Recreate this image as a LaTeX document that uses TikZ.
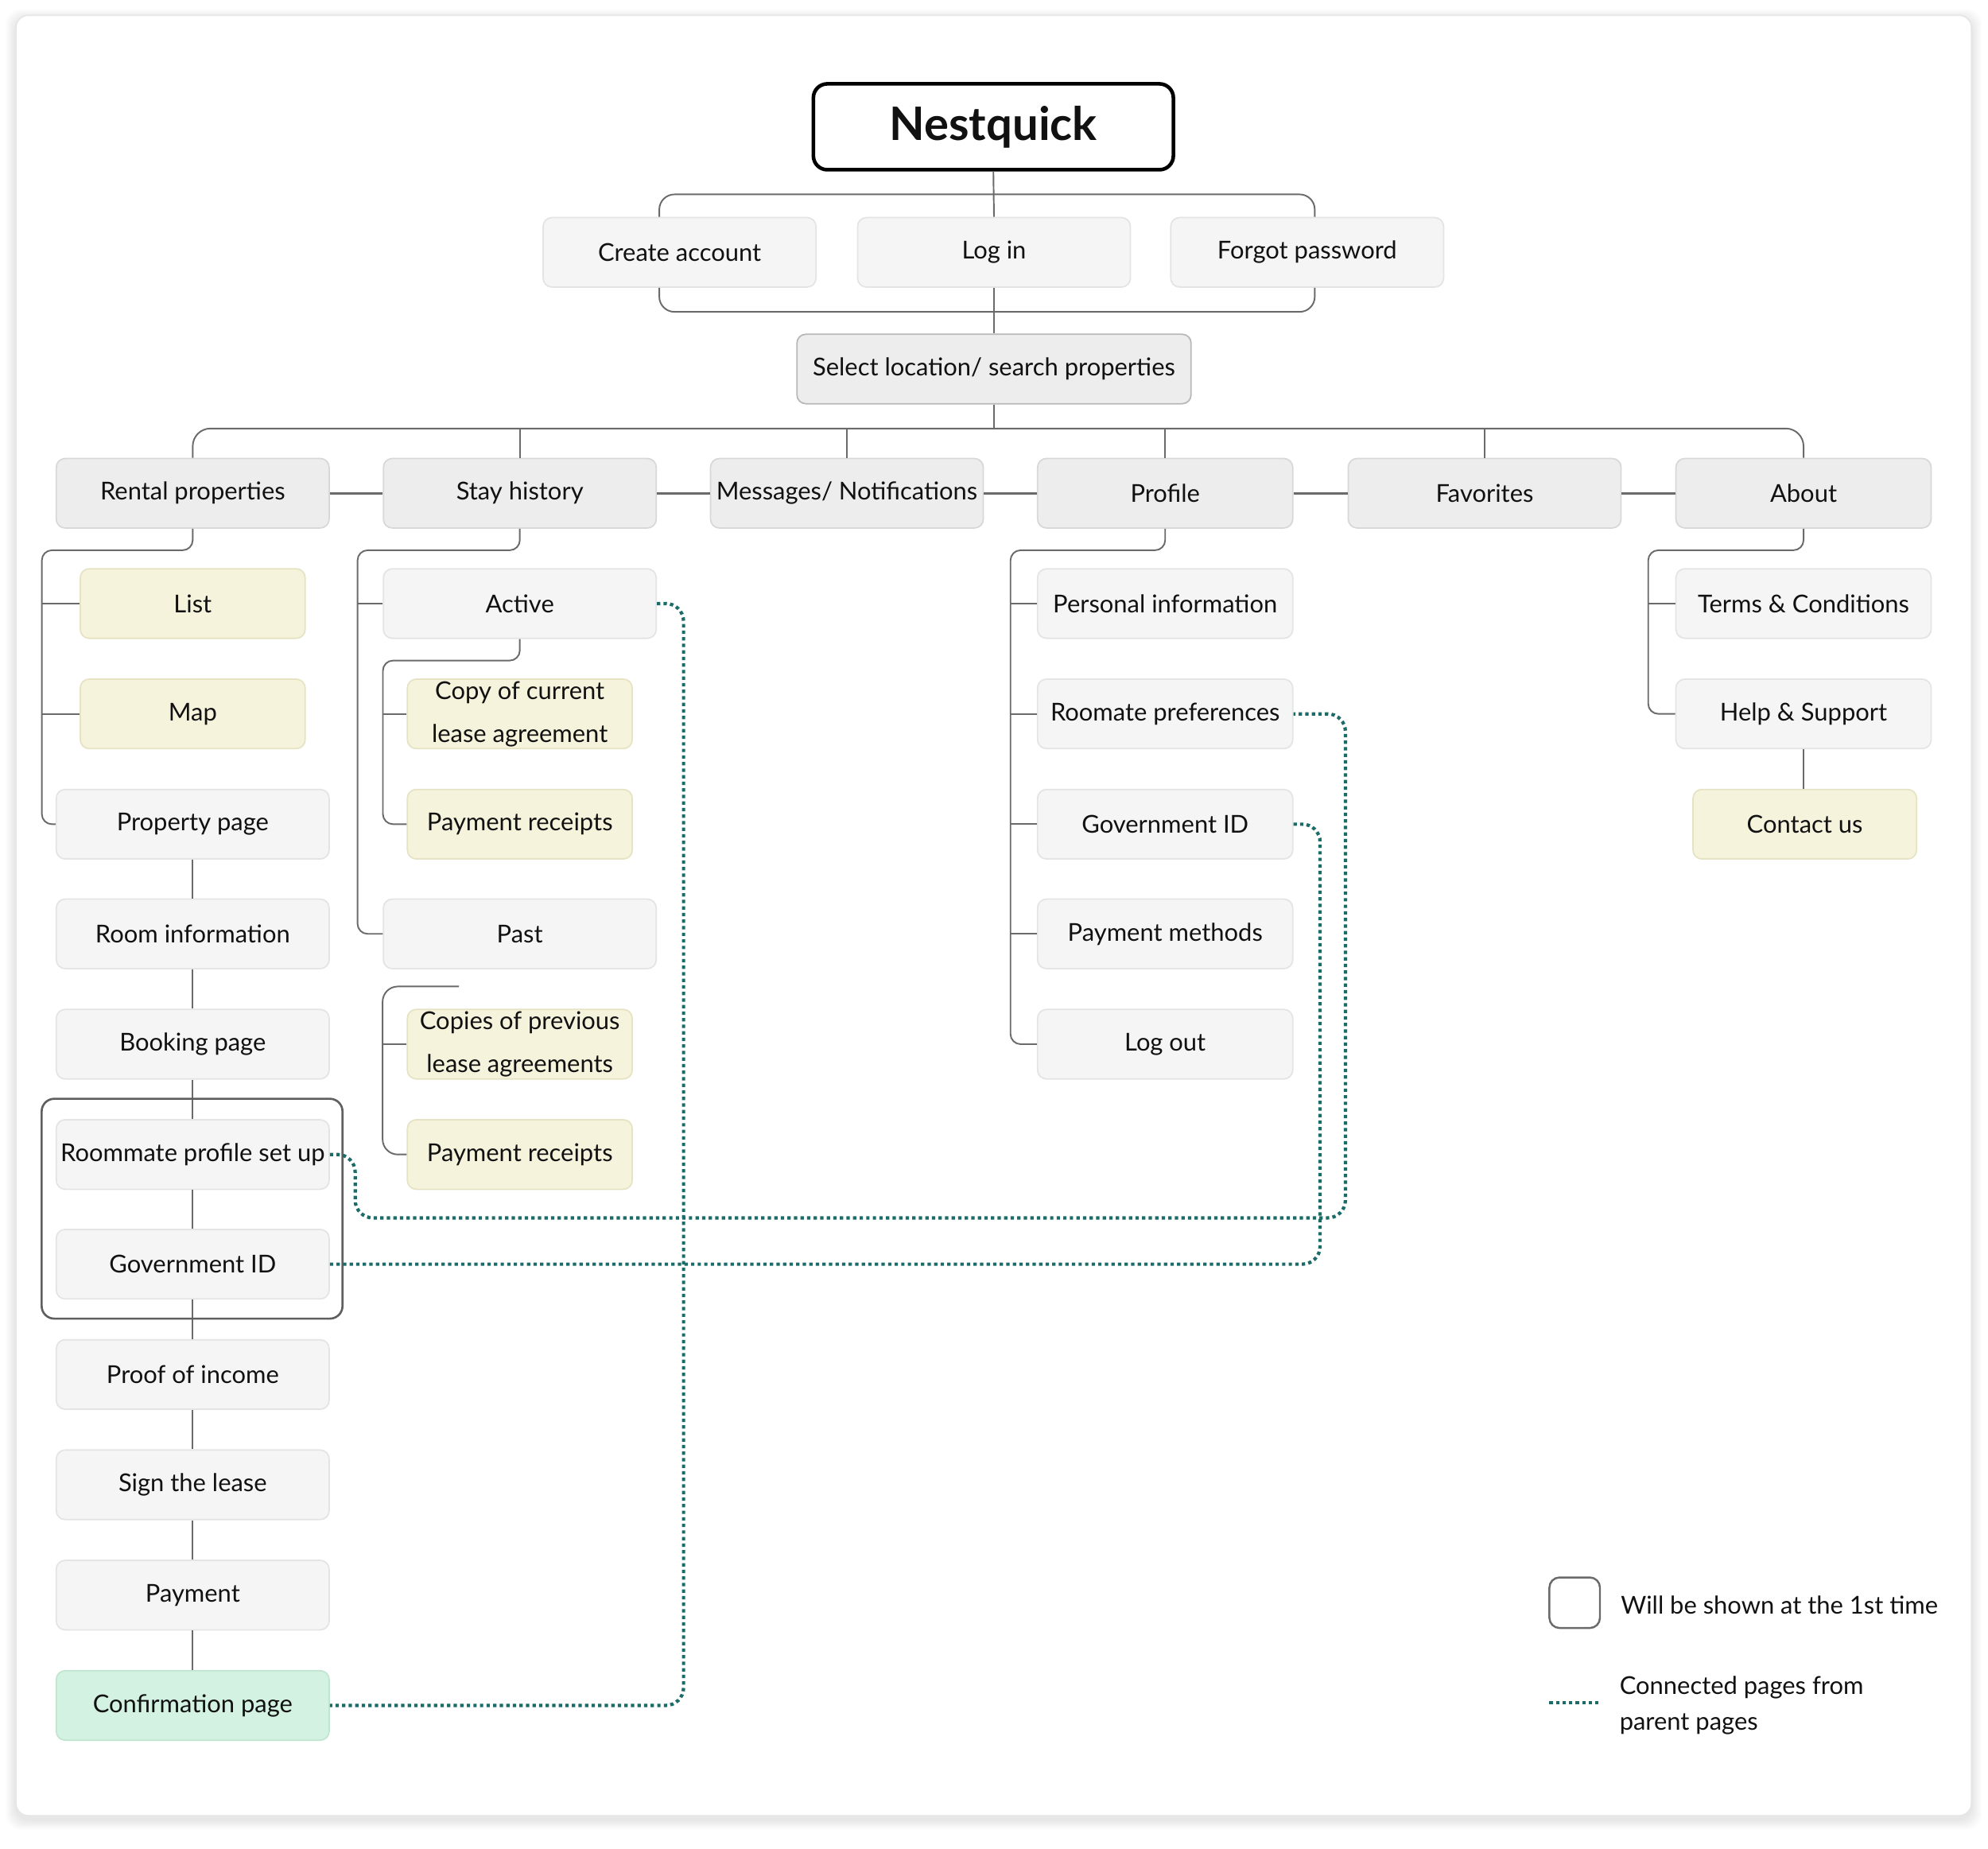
\documentclass[tikz,border=0pt]{standalone}
\usepackage{fontspec}
\setmainfont{Lato}
\usetikzlibrary{calc}
\def\px{0.4520pt}
\definecolor{ink}{HTML}{111111}
\definecolor{lightfill}{HTML}{F4F5F4}
\definecolor{lightdraw}{HTML}{E3E5E3}
\definecolor{catfill}{HTML}{EDEDED}
\definecolor{catdraw}{HTML}{D8D8D8}
\definecolor{yelfill}{HTML}{F5F3DC}
\definecolor{yeldraw}{HTML}{E6E3C4}
\definecolor{mintfill}{HTML}{D4F2E2}
\definecolor{mintdraw}{HTML}{C0E5D0}
\definecolor{conncol}{HTML}{6A6A6A}
\definecolor{tealdot}{HTML}{1B6B68}
\definecolor{cardline}{HTML}{E6E6E6}
\begin{document}
\begin{tikzpicture}[x=0.015944cm, y=-0.015944cm,
  box/.style={rectangle, rounded corners=7*\px, line width=0.5pt, inner sep=0pt, align=center,
    text=ink, font=\fontsize{8.8}{15.4}\selectfont, minimum height=55*\px},
  wide/.style={minimum width=216*\px},
  mid/.style={minimum width=202*\px},
  narrow/.style={minimum width=178*\px},
  light/.style={box, fill=lightfill, draw=lightdraw},
  cat/.style={box, fill=catfill, draw=catdraw},
  yel/.style={box, fill=yelfill, draw=yeldraw},
  mint/.style={box, fill=mintfill, draw=mintdraw},
  conn/.style={draw=conncol, line width=0.55pt, rounded corners=8*\px},
  rowconn/.style={draw=conncol, line width=0.85pt},
  dotc/.style={draw=tealdot, line width=1.2pt, dash pattern=on 1.2pt off 1.15pt, rounded corners=14*\px},
  lbl/.style={inner sep=0pt, text=ink, font=\fontsize{8.8}{12.7}\selectfont},
]
\useasboundingbox (0,0) rectangle (1568,1458.2);
% card with soft shadow
\foreach \i in {1,...,8}{
  \fill[black, opacity=0.012, rounded corners=12*\px] (12.5-\i,12-\i+3) rectangle (1555+\i,1432+\i+3);
}
\draw[cardline, fill=white, line width=0.5pt, rounded corners=10*\px] (12.5,12) rectangle (1555,1432);

% ---------- nodes ----------
\node[box, draw=black, fill=white, line width=1.3pt, rounded corners=11*\px, minimum width=285*\px, minimum height=68*\px,
  font=\fontsize{16.5}{18}\selectfont\bfseries] (nest) at (783.5,100) {Nestquick};
\node[light, wide] (create) at (536,199) {Create account};
\node[light, wide] (login) at (784,199) {Log in};
\node[light, wide] (forgot) at (1031,199) {Forgot password};
\node[cat, draw=catdraw!85!black, minimum width=312*\px] (sel) at (784,291) {Select location/ search properties};

\node[cat, wide] (rental) at (152,389) {Rental properties};
\node[cat, wide] (stay) at (410,389) {Stay history};
\node[cat, wide] (msg) at (668,389) {Messages/ Notifications};
\node[cat, mid] (profile) at (919,389) {Profile};
\node[cat, wide] (fav) at (1171,389) {Favorites};
\node[cat, mid] (about) at (1422.5,389) {About};

% rental column
\node[yel, narrow] (list) at (152,476) {List};
\node[yel, narrow] (map) at (152,563) {Map};
\node[light, wide] (prop) at (152,650) {Property page};
\node[light, wide] (room) at (152,736.5) {Room information};
\node[light, wide] (booking) at (152,823.5) {Booking page};
\node[light, wide] (rsetup) at (152,910.5) {Roommate profile set up};
\node[light, wide] (gov) at (152,997) {Government ID};
\node[light, wide] (proof) at (152,1084) {Proof of income};
\node[light, wide] (sign) at (152,1171) {Sign the lease};
\node[light, wide] (payment) at (152,1258) {Payment};
\node[mint, wide] (confirm) at (152,1345) {Confirmation page};

% stay column
\node[light, wide] (active) at (410,476) {Active};
\node[yel, narrow] (copy) at (410,563) {Copy of current\\lease agreement};
\node[yel, narrow] (pay1) at (410,650) {Payment receipts};
\node[light, wide] (past) at (410,736.5) {Past};
\node[yel, narrow] (copies) at (410,823.5) {Copies of previous\\lease agreements};
\node[yel, narrow] (pay2) at (410,910.5) {Payment receipts};

% profile column
\node[light, mid] (personal) at (919,476) {Personal information};
\node[light, mid] (rpref) at (919,563) {Roomate preferences};
\node[light, mid] (govp) at (919,650) {Government ID};
\node[light, mid] (paym) at (919,736.5) {Payment methods};
\node[light, mid] (logout) at (919,823.5) {Log out};

% about column
\node[light, mid] (terms) at (1422.5,476) {Terms \& Conditions};
\node[light, mid] (help) at (1422.5,563) {Help \& Support};
\node[yel, minimum width=177*\px] (contact) at (1423.5,650) {Contact us};

% ---------- connectors ----------
\coordinate (tb) at ($(nest.south)+(0,18)$);
\coordinate (bb) at ($(login.south)+(0,19)$);
\draw[conn, rounded corners=12*\px] ($(create.north)+(-16,0)$) |- (tb) -| ($(forgot.north)+(6,0)$);
\draw[conn, rounded corners=12*\px] ($(create.south)+(-16,0)$) |- (bb) -| ($(forgot.south)+(6,0)$);
\draw[conn] (nest.south) -- (login.north);
\draw[conn] (login.south) -- (sel.north);

\coordinate (bar) at ($(sel.south)+(0,19)$);
\draw[conn] (sel.south) -- (bar);
\draw[conn, rounded corners=14*\px] (rental.north) |- (bar) -| (about.north);
\foreach \n in {stay,msg,profile,fav}{
  \draw[conn] (\n.north) -- (\n.north |- bar);
}
\draw[rowconn] (rental.east) -- (stay.west);
\draw[rowconn] (stay.east) -- (msg.west);
\draw[rowconn] (msg.east) -- (profile.west);
\draw[rowconn] (profile.east) -- (fav.west);
\draw[rowconn] (fav.east) -- (about.west);

% rental children
\coordinate (rtrunk) at ($(rental.south)+(-119,17)$);
\draw[conn] (rental.south) |- (rtrunk) |- (prop.west);
\draw[conn] (list.west) -- (list.west -| rtrunk);
\draw[conn] (map.west) -- (map.west -| rtrunk);
\draw[conn] (prop.south) -- (room.north);
\draw[conn] (room.south) -- (booking.north);
\draw[conn] (booking.south) -- (rsetup.north);
\draw[conn] (rsetup.south) -- (gov.north);
\draw[conn] (gov.south) -- (proof.north);
\draw[conn] (proof.south) -- (sign.north);
\draw[conn] (sign.south) -- (payment.north);
\draw[conn] (payment.south) -- (confirm.north);
\draw[draw=conncol!90!black, line width=0.75pt, rounded corners=10*\px]
  ($(rsetup.north west)+(-11,-16)$) rectangle ($(gov.south east)+(10,15)$);

% stay children
\coordinate (strunk) at ($(stay.south)+(-128,17)$);
\draw[conn] (stay.south) |- (strunk) |- (past.west);
\draw[conn] (active.west) -- (active.west -| strunk);
\coordinate (atrunk) at ($(active.south)+(-108,17)$);
\draw[conn] (active.south) |- (atrunk) |- (pay1.west);
\draw[conn] (copy.west) -- (copy.west -| atrunk);
\coordinate (ptop) at (362,778);
\draw[conn, rounded corners=12*\px] (ptop) -| ($(pay2.west)+(-19,0)$) -- (pay2.west);
\draw[conn] (copies.west) -- ++(-19,0);

% profile children
\coordinate (prtrunk) at ($(profile.south)+(-122,17)$);
\draw[conn] (profile.south) |- (prtrunk) |- (logout.west);
\foreach \n in {personal,rpref,govp,paym}{
  \draw[conn] (\n.west) -- (\n.west -| prtrunk);
}

% about children
\coordinate (abtrunk) at ($(about.south)+(-122.5,17)$);
\draw[conn] (about.south) |- (abtrunk) |- (help.west);
\draw[conn] (terms.west) -- (terms.west -| abtrunk);
\draw[conn] (help.south) -- (help.south |- contact.north);

% dotted cross links
\draw[dotc] (active.east) -| ($(confirm.east)+(279,0)$) -- (confirm.east);
\draw[dotc] (rsetup.east) -| ($(rsetup.east)+(20,50)$) -| ($(rpref.east)+(41,0)$) -- (rpref.east);
\draw[dotc] (gov.east) -| ($(govp.east)+(21,0)$) -- (govp.east);

% ---------- legend ----------
\node[rectangle, draw=conncol, line width=0.7pt, rounded corners=8*\px, minimum size=40*\px, inner sep=0pt] (lsq) at (1242,1264) {};
\node[lbl, anchor=west] (l1) at (1278,1266) {Will be shown at the 1st time};
\coordinate (ld1) at (1222,1343);
\coordinate (ld2) at (1262,1343);
\draw[dotc] (ld1) -- (ld2);
\node[lbl, anchor=west, align=left] (l2) at (1277,1345) {Connected pages from\\parent pages};
\end{tikzpicture}
\end{document}
